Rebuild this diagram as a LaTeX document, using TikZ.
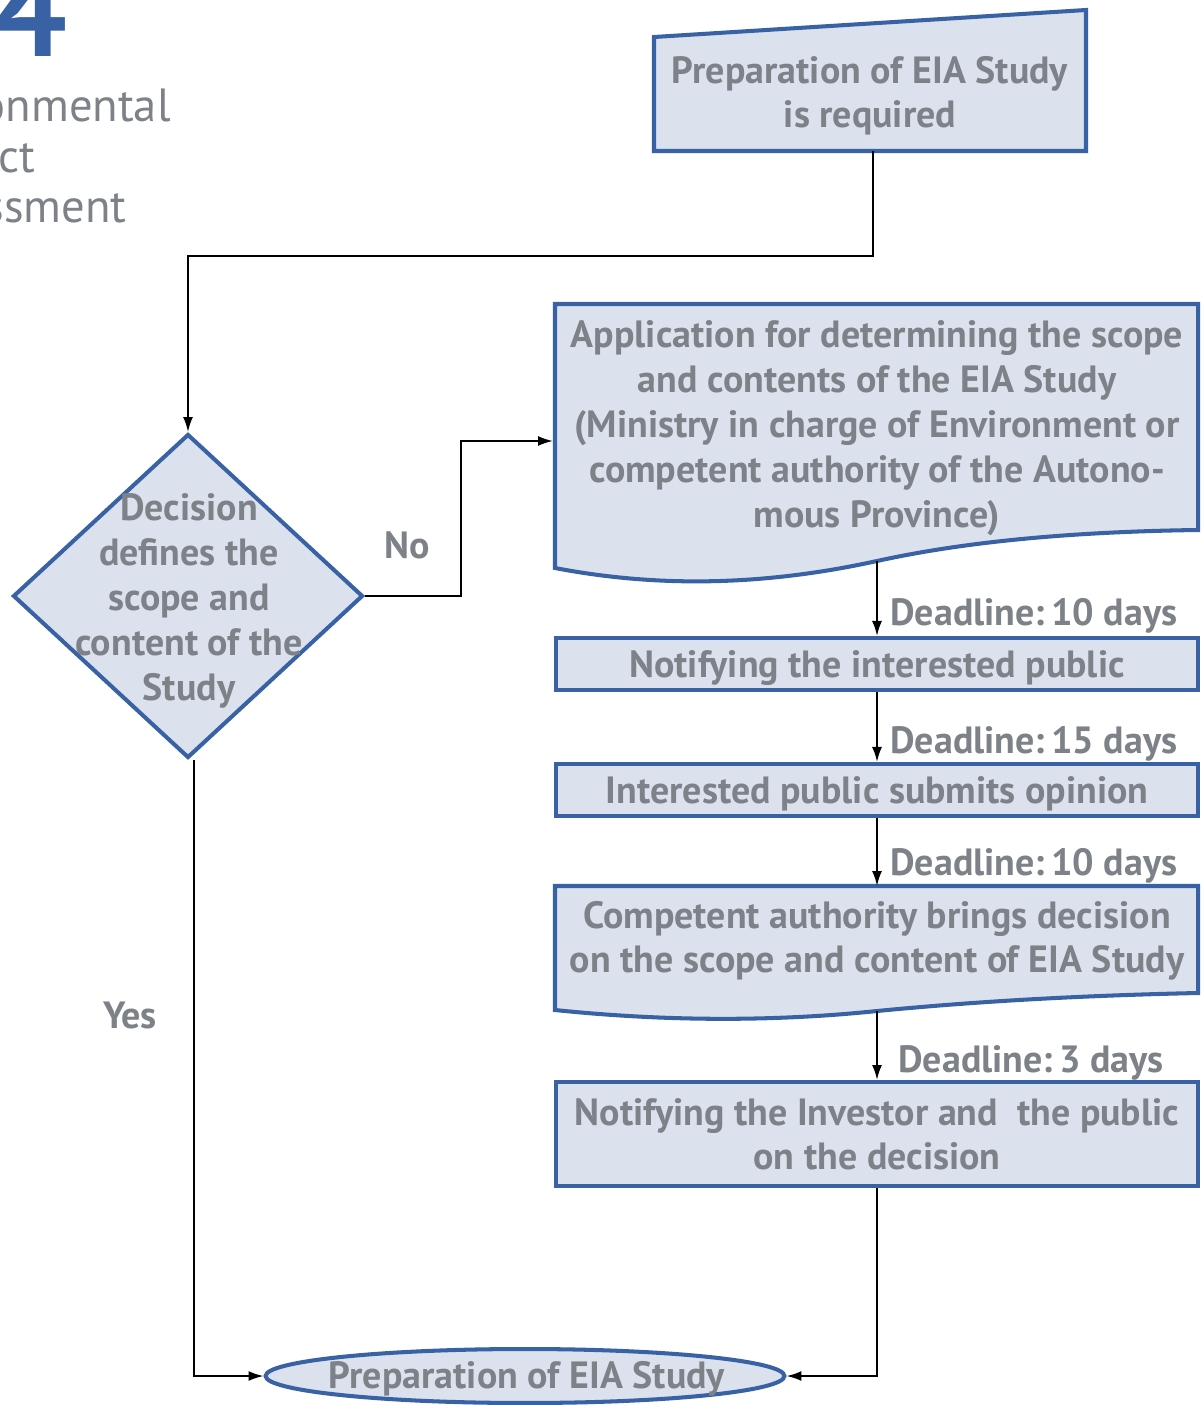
\documentclass[tikz,border=0pt]{standalone}
\usepackage{fontspec}
\setmainfont{PT Sans}
\usetikzlibrary{arrows.meta,positioning,calc,shapes.geometric}
\definecolor{boxfill}{HTML}{DCE1EE}
\definecolor{boxline}{HTML}{3862A3}
\definecolor{txtgrey}{HTML}{7D8288}
\newcommand{\mainfs}{\bfseries\fontsize{21.6}{25.5}\selectfont}

\begin{document}
\begin{tikzpicture}[
  x=0.02cm, y=-0.02cm,
  >={Latex[length=0.3cm,width=0.2cm]},
  box/.style={draw=boxline, fill=boxfill, line width=2.3pt, minimum width=12.86cm, inner sep=0pt,
    font=\mainfs, text=txtgrey, align=center, text depth=0pt},
  doc/.style={draw=boxline, fill=boxfill, line width=2.3pt},
  decision/.style={diamond, draw=boxline, fill=boxfill, line width=2.3pt, minimum width=7cm, minimum height=6.48cm, inner sep=0pt},
  term/.style={ellipse, draw=boxline, fill=boxfill, line width=2.3pt, minimum width=10.38cm, minimum height=1.08cm, inner sep=0pt},
  txt/.style={font=\mainfs, text=txtgrey, align=center, inner sep=0pt, text depth=0pt},
  lab/.style={font=\mainfs, text=txtgrey, inner sep=0pt},
  head/.style={font=\fontsize{26.5}{30}\selectfont, text=txtgrey, inner sep=0pt},
  conn/.style={line width=1.1pt}
]
\useasboundingbox (0,0) rectangle (1202,1405);

% chapter heading, cut at the page edge
\node[font=\bfseries\fontsize{74}{80}\selectfont, text=boxline, inner sep=0pt, anchor=base east] (num) at (68,57) {4};
\node[head, anchor=base east] (h1) at (171,122) {onmental};
\node[head, anchor=base east] (h2) at (36,173) {ct};
\node[head, anchor=base east] (h3) at (127,223) {ssment};

% start
\draw[doc] (654,37) -- (1086,10) -- (1086,151) -- (654,151) -- cycle;
\node[txt] (req) at (870,92) {Preparation of EIA Study\\is required};
\coordinate (reqout) at (873,151);
\coordinate (bend) at (873,256);

% decision
\node[decision] (dec) at (188,596) {};
\node[txt] (dectxt) at (189,597) {Decision\\defines the\\scope and\\content of the\\Study};

% application
\draw[doc] (555,304) -- (1198,304) -- (1198,530) .. controls (1050,532) and (950,545) .. (877,561)
  .. controls (790,580) and (680,592) .. (555,568) -- cycle;
\node[txt] (app) at (877,424) {Application for determining the scope\\and contents of the EIA Study\\(Ministry in charge of Environment or\\competent authority of the Autono-\\mous Province)};
\coordinate (appin) at (553,441);
\coordinate (appout) at (877,561);

\node[box, minimum height=1.04cm] (pub) at (877,664) {Notifying the interested public};
\node[box, minimum height=1.04cm] (opin) at (877,790) {Interested public submits opinion};

% decision of the authority
\draw[doc] (555,886) -- (1198,886) -- (1198,993) .. controls (1060,996) and (960,1003) .. (877,1011)
  .. controls (800,1019) and (690,1024) .. (555,1010) -- cycle;
\node[txt] (cmp) at (877,937) {Competent authority brings decision\\on the scope and content of EIA Study};
\coordinate (cmpin) at (877,886);
\coordinate (cmpout) at (877,1011);

\node[box, minimum height=2.08cm] (inv) at (877,1134) {Notifying the Investor and\ \ the public\\on the decision};

% end
\node[term] (prep) at (525,1376) {};
\node[txt] (preptxt) at (527,1375) {Preparation of EIA Study};

% connectors
\draw[conn,->] (reqout) -- (bend) -| (dec.north);
\draw[conn,->] (dec.east) -- ++(96,0) |- (appin);
\draw[conn,->] (appout) -- (pub.north);
\draw[conn,->] (pub.south) -- (opin.north);
\draw[conn,->] (opin.south) -- (cmpin);
\draw[conn,->] (cmpout) -- (inv.north);
\draw[conn,->] (inv.south) |- (prep.east);
\draw[conn,->] ($(dec.south)+(6,0)$) |- (prep.west);

\node[lab, anchor=base] (no) at (407,558) {No};
\node[lab, anchor=base] (yes) at (130,1028) {Yes};
\node[lab, anchor=base west] (dl1) at (890,625) {Deadline:\,10 days};
\node[lab, anchor=base west] (dl2) at (890,753) {Deadline:\,15 days};
\node[lab, anchor=base west] (dl3) at (890,875) {Deadline:\,10 days};
\node[lab, anchor=base west] (dl4) at (898,1072) {Deadline:\,3 days};
\end{tikzpicture}
\end{document}
